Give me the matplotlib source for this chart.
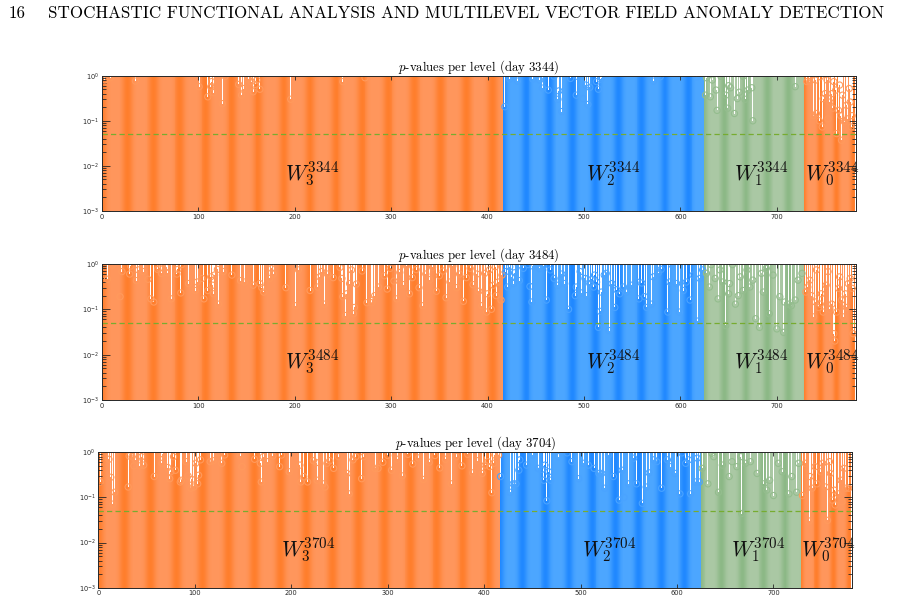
import numpy as np
import matplotlib
matplotlib.use("Agg")
import matplotlib.pyplot as plt
from matplotlib.ticker import LogLocator, FixedLocator, NullFormatter

# ---------------- data ----------------
N_COEF = 780
level_names = ["3", "2", "1", "0"]
level_sizes = [416, 208, 104, 52]
days = [3344, 3484, 3704]
alpha_level = 0.05

# p-values that fall visibly below 1 (index -> p); all other coefficients have p = 1
dip_idx_3344 = [3, 9, 35, 101, 110, 113, 114, 116, 125, 128, 142, 145, 147, 152, 155, 157, 159, 161, 164, 196, 250, 273,
                418, 423, 431, 447, 454, 457, 463, 469, 473, 474, 477, 486, 492, 493, 499, 502, 504, 506, 513, 515, 517, 518, 572, 579, 617,
                626, 627, 631, 633, 637, 638, 642, 647, 649, 650, 652, 656, 659, 661, 665, 667, 670, 674, 675, 719,
                731, 734, 738, 740, 741, 744, 745, 747, 748, 750, 752, 753, 755, 757, 758, 759, 761, 762, 764, 765, 766, 767, 768, 770, 772, 773, 775, 776, 777, 778]
dip_p_3344 = [0.80, 0.90, 0.76, 0.57, 0.34, 0.57, 0.74, 0.42, 0.24, 0.97, 0.64, 0.37, 0.52, 0.84, 0.74, 0.44, 0.64, 0.80, 0.50, 0.30, 0.74, 0.90,
              0.205, 0.84, 0.76, 0.84, 0.80, 0.53, 0.48, 0.97, 0.30, 0.46, 0.16, 0.87, 0.37, 0.97, 0.31, 0.62, 0.23, 0.55, 0.74, 0.50, 0.83, 0.90, 0.76, 0.95, 0.95,
              0.37, 0.90, 0.34, 0.80, 0.48, 0.17, 0.97, 0.37, 0.19, 0.60, 0.54, 0.145, 0.31, 0.43, 0.97, 0.30, 0.48, 0.54, 0.10, 0.57,
              0.74, 0.74, 0.13, 0.80, 0.145, 0.10, 0.95, 0.073, 0.31, 0.40, 0.80, 0.11, 0.26, 0.40, 0.19, 0.74, 0.48, 0.052, 0.17, 0.62, 0.13, 0.037, 0.37, 0.095, 0.22, 0.11, 0.52, 0.26, 0.073, 0.13]

dip_idx_3484 = [6, 11, 19, 21, 29, 30, 36, 38, 43, 48, 51, 54, 58, 60, 62, 67, 68, 72, 78, 79, 82, 83, 90, 97, 99, 104, 106, 110, 113, 115, 116, 117, 120, 121, 126, 135, 144, 148, 153, 157, 164, 166, 168, 174, 176, 178, 191, 201, 204, 216, 224, 226, 228, 231, 234, 240, 247, 249, 250, 253, 254, 257, 259, 261, 262, 264, 270, 275, 280, 281, 283, 287,
                293, 296, 299, 303, 306, 309, 313, 316, 319, 322, 326, 329, 333, 336, 340, 343, 347, 350, 354, 357, 361, 364, 368, 371, 375, 378, 382, 385, 389, 391,
                394, 397, 399, 400, 402, 404, 406, 408, 409, 411, 414, 415,
                419, 421, 423, 425, 427, 428, 432, 433, 437, 442, 444, 446, 447, 451, 454, 458, 461, 465, 469, 473, 477, 480, 484, 491, 492, 496, 497, 501, 503, 506, 508, 510, 511, 513, 515, 517, 518, 521, 523, 526, 529, 532, 534, 537, 541, 544, 549, 555, 557, 560, 563, 565, 570, 572, 577, 580, 587, 589, 591, 596, 599, 603, 606, 610, 613, 618, 620, 623,
                627, 630, 632, 636, 639, 641, 644, 647, 650, 651, 654, 657, 660, 662, 665, 669, 672, 675, 678, 682, 684, 686, 689, 692, 696, 700, 703, 707, 708, 712, 715, 719, 722, 726,
                730, 732, 734, 736, 738, 740, 741, 743, 745, 746, 748, 751, 753, 755, 757, 759, 760, 762, 764, 765, 767, 769, 771, 772, 774, 776, 778, 779]
dip_p_3484 = [0.46, 0.95, 0.19, 0.68, 0.60, 0.90, 0.43, 0.74, 0.68, 0.46, 0.17, 0.145, 0.76, 0.80, 0.62, 0.84, 0.64, 0.17, 0.60, 0.76, 0.23, 0.97, 0.37, 0.26, 0.40, 0.48, 0.17, 0.26, 0.52, 0.34, 0.22, 0.57, 0.76, 0.13, 0.68, 0.57, 0.43, 0.40, 0.97, 0.34, 0.37, 0.30, 0.24, 0.48, 0.80, 0.60, 0.30, 0.12, 0.74, 0.26, 0.31, 0.52, 0.68, 0.13, 0.60, 0.50, 0.84, 0.48, 0.19, 0.073, 0.22, 0.37, 0.74, 0.08, 0.11, 0.36, 0.70, 0.14, 0.14, 0.16, 0.20, 0.31,
              0.55, 0.28, 0.80, 0.42, 0.17, 0.65, 0.35, 0.90, 0.22, 0.50, 0.75, 0.30, 0.12, 0.60, 0.45, 0.85, 0.25, 0.55, 0.70, 0.18, 0.40, 0.90, 0.30, 0.60, 0.15, 0.50, 0.80, 0.35, 0.60, 0.25,
              0.12, 0.62, 0.087, 0.22, 0.74, 0.10, 0.34, 0.87, 0.20, 0.40, 0.16, 0.57,
              0.68, 0.31, 0.87, 0.52, 0.37, 0.64, 0.95, 0.43, 0.80, 0.97, 0.32, 0.145, 0.90, 0.97, 0.80, 0.90, 0.16, 0.74, 0.48, 0.34, 0.60, 0.37, 0.10, 0.20, 0.31, 0.68, 0.23, 0.48, 0.20, 0.37, 0.46, 0.31, 0.57, 0.40, 0.04, 0.09, 0.24, 0.57, 0.62, 0.034, 0.37, 0.11, 0.27, 0.22, 0.31, 0.24, 0.34, 0.40, 0.17, 0.38, 0.19, 0.11, 0.13, 0.52, 0.64, 0.76, 0.087, 0.40, 0.97, 0.37, 0.087, 0.26, 0.40, 0.16, 0.57, 0.055, 0.48, 0.74,
              0.62, 0.31, 0.97, 0.48, 0.17, 0.74, 0.40, 0.044, 0.22, 0.37, 0.97, 0.13, 0.20, 0.52, 0.26, 0.74, 0.31, 0.44, 0.062, 0.04, 0.62, 0.24, 0.80, 0.08, 0.57, 0.037, 0.19, 0.031, 0.145, 0.13, 0.12, 0.16, 0.44, 0.62,
              0.24, 0.31, 0.44, 0.20, 0.068, 0.145, 0.74, 0.11, 0.13, 0.22, 0.087, 0.34, 0.68, 0.10, 0.13, 0.029, 0.02, 0.087, 0.29, 0.52, 0.16, 0.068, 0.22, 0.11, 0.37, 0.48, 0.29, 0.029]

dip_idx_3704 = [2, 11, 13, 15, 17, 31, 32, 35, 37, 39, 43, 45, 47, 58, 66, 67, 72, 74, 75, 78, 80, 85, 86, 91, 93, 96, 97, 99, 101, 103, 104, 106, 116, 119, 125, 128, 131, 147, 149, 162, 168, 169, 171, 175, 181, 188, 190, 198, 209, 210, 213, 217, 223, 226, 227, 233, 235, 237, 240, 244, 249, 258, 260, 264, 267, 273, 275, 287, 290,
                295, 300, 304, 310, 315, 321, 326, 332, 337, 343, 349, 354, 360, 366, 371, 377, 383, 388, 393,
                398, 401, 404, 406, 408, 410, 411, 415,
                417, 427, 430, 433, 436, 437, 444, 450, 456, 460, 462, 463, 465, 467, 469, 477, 486, 491, 498, 503, 508, 514, 519, 522, 525, 529, 534, 540, 543, 545, 550, 555, 558, 564, 568, 571, 576, 579, 584, 590, 593, 598, 603, 605, 609, 612, 614, 619, 621, 623,
                626, 632, 636, 638, 643, 647, 654, 657, 662, 666, 667, 671, 676, 683, 690, 693, 696, 700, 705, 709, 716, 719, 724, 726,
                730, 733, 737, 738, 740, 743, 745, 749, 751, 754, 756, 758, 759, 761, 763, 764, 767, 770, 771, 773, 775, 778]
dip_p_3704 = [0.22, 0.70, 0.28, 0.071, 0.13, 0.17, 0.83, 0.80, 0.50, 0.68, 0.50, 0.80, 0.52, 0.29, 0.57, 0.92, 0.46, 0.26, 0.37, 0.80, 0.40, 0.22, 0.24, 0.62, 0.30, 0.16, 0.25, 0.17, 0.57, 0.20, 0.31, 0.68, 0.62, 0.65, 0.97, 0.57, 0.87, 0.83, 0.48, 0.70, 0.57, 0.22, 0.80, 0.62, 0.83, 0.48, 0.87, 0.37, 0.52, 0.22, 0.29, 0.22, 0.65, 0.59, 0.24, 0.20, 0.17, 0.57, 0.65, 0.44, 0.80, 0.34, 0.12, 0.68, 0.80, 0.26, 0.80, 0.44, 0.44,
              0.60, 0.85, 0.40, 0.70, 0.30, 0.90, 0.55, 0.75, 0.25, 0.60, 0.85, 0.45, 0.70, 0.20, 0.80, 0.50, 0.90, 0.35, 0.65,
              0.34, 0.52, 0.62, 0.48, 0.127, 0.57, 0.87, 0.87,
              0.29, 0.13, 0.20, 0.20, 0.40, 0.68, 0.52, 0.87, 0.44, 0.42, 0.24, 0.52, 0.084, 0.37, 0.24, 0.80, 0.97, 0.62, 0.26, 0.57, 0.52, 0.44, 0.34, 0.34, 0.16, 0.87, 0.29, 0.087, 0.40, 0.10, 0.20, 0.74, 0.20, 0.074, 0.17, 0.35, 0.68, 0.62, 0.16, 0.68, 0.48, 0.34, 0.12, 0.97, 0.57, 0.68, 0.12, 0.22, 0.74, 0.22,
              0.44, 0.20, 0.95, 0.80, 0.13, 0.52, 0.29, 0.62, 0.48, 0.80, 0.044, 0.57, 0.62, 0.34, 0.20, 0.145, 0.24, 0.11, 0.57, 0.37, 0.12, 0.29, 0.13, 0.57,
              0.11, 0.57, 0.03, 0.29, 0.16, 0.48, 0.20, 0.37, 0.57, 0.17, 0.031, 0.62, 0.34, 0.087, 0.145, 0.068, 0.12, 0.24, 0.08, 0.44, 0.16, 0.16]

dips = {3344: (dip_idx_3344, dip_p_3344),
        3484: (dip_idx_3484, dip_p_3484),
        3704: (dip_idx_3704, dip_p_3704)}

# ---------------- style ----------------
ORANGE = (np.array([255, 150, 92]) / 255, np.array([255, 126, 44]) / 255, "#ff9a5c")
BLUE = (np.array([76, 166, 255]) / 255, np.array([32, 136, 255]) / 255, "#4aa3ff")
GREEN = (np.array([170, 200, 164]) / 255, np.array([140, 184, 134]) / 255, "#94bd8e")
level_styles = [ORANGE, BLUE, GREEN, ORANGE]
stripe_period = [27, 24, 22, 17]
label_x = [218, 530, 684, 757]

YMIN, YMAX = 1e-3, 1.0
SERIF = "cmr10"

fig = plt.figure(figsize=(8.99, 6.05), dpi=100)

fig.text(9 / 899, 1 - 13 / 605, "16", family=SERIF, fontsize=12.2, va="center", ha="left")
fig.text(48 / 899, 1 - 13 / 605, "STOCHASTIC FUNCTIONAL ANALYSIS AND MULTILEVEL VECTOR FIELD ANOMALY DETECTION",
         family=SERIF, fontsize=12.2, va="center", ha="left")

axes_px = [(101.7, 75.7, 855.7, 211.0),
           (101.7, 264.0, 855.7, 400.0),
           (98.3, 452.3, 852.3, 587.7)]

for k, day in enumerate(days):
    l, t, r, b = axes_px[k]
    ax = fig.add_axes([l / 899, 1 - b / 605, (r - l) / 899, (b - t) / 605])
    ax.set_yscale("log")

    pvals = np.ones(N_COEF)
    idx, pv = dips[day]
    pvals[np.array(idx) - 1] = pv

    start = 0
    for lev, size in enumerate(level_sizes):
        light, dark, mcol = level_styles[lev]
        xs = np.arange(start + 1, start + size + 1)
        w = (0.5 + 0.5 * np.cos(2 * np.pi * (xs - start) / stripe_period[lev])) ** 2.5
        cols = light[None, :] * (1 - w[:, None]) + dark[None, :] * w[:, None]
        yv = pvals[xs - 1]
        ax.bar(xs, yv - YMIN, bottom=YMIN, width=1.04, color=cols, linewidth=0,
               antialiased=False, zorder=1)
        sel = yv < 1.0
        ax.scatter(xs[sel], yv[sel], s=20, facecolors="none", edgecolors=mcol,
                   linewidths=0.8, zorder=2)
        ax.text(label_x[lev], 0.0066, rf"$W_{{{level_names[lev]}}}^{{{day}}}$", fontsize=15.5,
                math_fontfamily="cm", ha="center", va="center", zorder=5, color="#111111")
        start += size

    ax.axhline(alpha_level, color=(0.466, 0.674, 0.188), lw=0.9, dashes=(4.2, 2.6), zorder=4)

    ax.set_xlim(0, 781.7)
    ax.set_ylim(YMIN, YMAX)
    ax.xaxis.set_major_locator(FixedLocator([0, 100, 200, 300, 400, 500, 600, 700]))
    ax.yaxis.set_major_locator(LogLocator(base=10, numticks=10))
    ax.yaxis.set_minor_locator(LogLocator(base=10, subs=np.arange(2, 10), numticks=20))
    ax.yaxis.set_minor_formatter(NullFormatter())

    ax.tick_params(axis="both", which="both", direction="in", top=True, right=True,
                   colors="#262626", labelsize=4.8, width=0.6, zorder=6)
    ax.tick_params(axis="x", which="major", length=3.0, pad=2)
    ax.tick_params(axis="y", which="major", length=5.5, pad=2)
    ax.tick_params(axis="y", which="minor", length=3.2)
    for sp in ax.spines.values():
        sp.set_color("#262626")
        sp.set_linewidth(0.7)
        sp.set_zorder(6)

    ax.set_title(rf"$p$-values per level (day {day})", family=SERIF, fontsize=9.2,
                 math_fontfamily="cm", pad=2.5)

fig.savefig("out.png", dpi=100)
